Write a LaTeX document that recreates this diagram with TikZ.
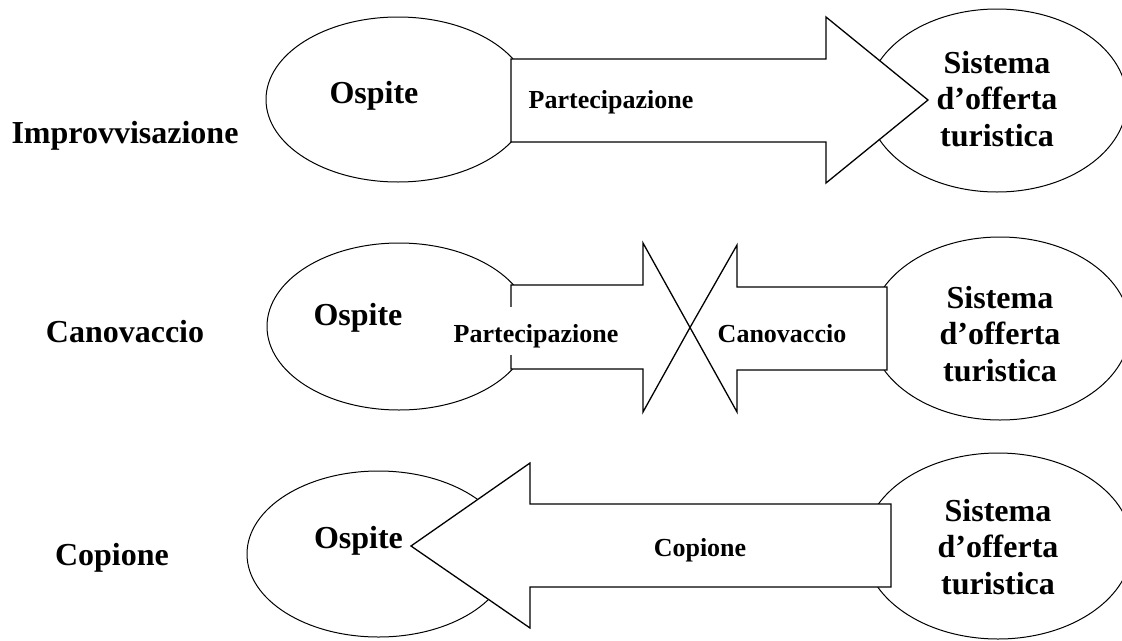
\documentclass[tikz,border=0pt]{standalone}
\usepackage{fontspec}
\setmainfont{Liberation Serif}[Ligatures=CommonOff]
\usetikzlibrary{shapes.geometric}
\begin{document}
\begin{tikzpicture}[x=1pt,y=-1pt,
  oval/.style={draw, ellipse, line width=1pt, inner sep=0pt, fill=white},
  blockarrow/.style={draw, fill=white, line width=1.3pt, line join=miter},
  big/.style={font=\fontsize{32}{36.8}\selectfont\bfseries, inner sep=0pt},
  small/.style={font=\fontsize{26}{30}\selectfont\bfseries, inner sep=0pt}]
\useasboundingbox (0,0) rectangle (1122,640);

% ---------- Improvvisazione ----------
\node[oval, minimum width=264pt, minimum height=165pt] (host1) at (398,99.5) {};
\node[oval, minimum width=260pt, minimum height=183pt] (sys1) at (997,100.5) {};
\draw[blockarrow] (511,59) -- (826,59) -- (826,17) -- (928,100) -- (826,183) -- (826,142) -- (511,142) -- cycle;
\node[big, anchor=base] (mode1) at (125,143) {Improvvisazione};
\node[big, anchor=base] (hostlbl1) at (374,103) {Ospite};
\node[small, anchor=base] (flow1) at (611,108) {Partecipazione};
\node[big, align=center] (syslbl1) at (997,99) {Sistema\\d’offerta\\turistica};

% ---------- Canovaccio ----------
\node[oval, minimum width=264pt, minimum height=167pt] (host2) at (399,326.5) {};
\node[oval, minimum width=260pt, minimum height=183pt] (sys2) at (1000,328.5) {};
\draw[blockarrow] (511,285) -- (643,285) -- (643,243) -- (690,327.5) -- (643,412) -- (643,369) -- (511,369) -- cycle;
\draw[blockarrow] (887,287) -- (737,287) -- (737,245) -- (690,327.5) -- (737,412) -- (737,370) -- (887,370) -- cycle;
\node[big, anchor=base] (mode2) at (125,342) {Canovaccio};
\node[big, anchor=base] (hostlbl2) at (358,325) {Ospite};
\node[small, anchor=base, fill=white, text height=35pt, text depth=13pt] (flow2) at (536,342) {Partecipazione};
\node[small, anchor=base] (back2) at (782,342) {Canovaccio};
\node[big, align=center] (syslbl2) at (1000,334) {Sistema\\d’offerta\\turistica};

% ---------- Copione ----------
\node[oval, minimum width=263pt, minimum height=166pt] (host3) at (378.5,554) {};
\node[oval, minimum width=268pt, minimum height=186pt] (sys3) at (998,546) {};
\draw[blockarrow] (891,504) -- (530,504) -- (530,463) -- (411,546) -- (530,628) -- (530,587) -- (891,587) -- cycle;
\node[big, anchor=base] (mode3) at (112,565) {Copione};
\node[big, anchor=base] (hostlbl3) at (358.5,548) {Ospite};
\node[small, anchor=base] (back3) at (700,556) {Copione};
\node[big, align=center] (syslbl3) at (998,547) {Sistema\\d’offerta\\turistica};
\end{tikzpicture}
\end{document}
